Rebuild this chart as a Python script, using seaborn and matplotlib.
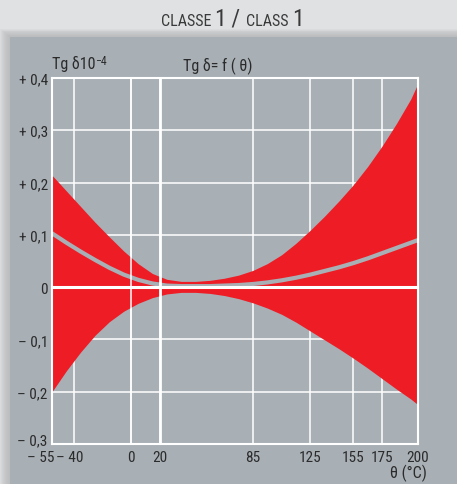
import matplotlib
matplotlib.use("Agg")
import matplotlib.pyplot as plt
from matplotlib.patches import Rectangle
from matplotlib.offsetbox import TextArea, HPacker, AnchoredOffsetbox
from matplotlib.transforms import ScaledTranslation
import seaborn as sns
import pandas as pd

# Temperature (°C) and tan delta (x 10^-4) envelopes
temps = [-55, -45, -35, -25, -15, -5, 5, 15, 25, 35, 45, 55, 65, 75, 85,
         95, 105, 115, 125, 135, 145, 155, 165, 175, 185, 195, 200]
upper = [0.214, 0.184, 0.154, 0.124, 0.096, 0.069, 0.045, 0.026, 0.015, 0.011,
         0.011, 0.013, 0.017, 0.023, 0.032, 0.045, 0.062, 0.084, 0.109, 0.136,
         0.165, 0.196, 0.231, 0.270, 0.313, 0.360, 0.390]
typical = [0.103, 0.085, 0.068, 0.052, 0.037, 0.024, 0.014, 0.007, 0.003, 0.002,
           0.002, 0.002, 0.003, 0.004, 0.006, 0.009, 0.013, 0.018, 0.024, 0.031,
           0.038, 0.046, 0.055, 0.065, 0.075, 0.085, 0.090]
lower = [-0.200, -0.160, -0.124, -0.092, -0.066, -0.046, -0.031, -0.020, -0.013,
         -0.010, -0.010, -0.012, -0.016, -0.022, -0.030, -0.040, -0.052, -0.067,
         -0.084, -0.101, -0.118, -0.136, -0.155, -0.175, -0.195, -0.214, -0.225]

x_ticks = [-55, -40, 0, 20, 85, 125, 155, 175, 200]
x_tick_labels = ["– 55", "– 40", "0", "20", "85", "125", "155", "175", "200"]
y_ticks = [0.4, 0.3, 0.2, 0.1, 0.0, -0.1, -0.2, -0.3]
y_tick_labels = ["+ 0,4", "+ 0,3", "+ 0,2", "+ 0,1", "0", "– 0,1", "– 0,2", "– 0,3"]

df = pd.DataFrame({"theta": temps, "upper": upper, "typical": typical, "lower": lower})

sns.set_theme(style="white")
FONT = ["Roboto Condensed", "Liberation Sans Narrow", "Liberation Sans", "DejaVu Sans"]
plt.rcParams["font.family"] = FONT

PAGE = "#e0e1e3"
PANEL = "#a8afb5"
RED = "#ee1c25"
TXT = "#2b2b2b"

fig = plt.figure(figsize=(4.57, 4.85), dpi=100, facecolor=PAGE)

# Panel with a soft drop shadow on its top and left edges
W, H = 457.0, 485.0
px, py = 10 / W, 38 / H
for i in range(10):
    a = 0.03 * (10 - i) / 10 + 0.008
    fig.patches.append(Rectangle((px - (10 - i) / W, 0), 1, 1 - py + (10 - i) / H * 0.8,
                                 transform=fig.transFigure, facecolor="#505558",
                                 alpha=a, edgecolor="none", zorder=-3))
fig.patches.append(Rectangle((px, 0), 1, 1 - py, transform=fig.transFigure,
                             facecolor=PANEL, edgecolor="none", zorder=-2))

ax = fig.add_axes([52 / W, 1 - 445 / H, 366 / W, 366 / H])
ax.set_facecolor(PANEL)

ax.fill_between(df["theta"], df["lower"], df["upper"], color=RED, lw=0, zorder=2)
sns.lineplot(data=df, x="theta", y="typical", color=PANEL, lw=3.0, ax=ax, zorder=3)

ax.set_xlim(-55, 200)
ax.set_ylim(-0.3, 0.4)
ax.set_xticks(x_ticks)
ax.set_xticklabels(x_tick_labels)
ax.set_yticks(y_ticks)
ax.set_yticklabels(y_tick_labels)
ax.tick_params(length=0, labelsize=11, colors=TXT)
ax.tick_params(axis="y", pad=3)
ax.tick_params(axis="x", pad=4)
ax.set_xlabel("")
ax.set_ylabel("")

# Nudge the crowded labels at the cold end
def nudge(label, dx, dy):
    label.set_transform(label.get_transform()
                        + ScaledTranslation(dx / 100, dy / 100, fig.dpi_scale_trans))

xlabels = ax.get_xticklabels()
nudge(xlabels[0], -11, 0)
nudge(xlabels[1], -4, 0)
nudge(ax.get_yticklabels()[-1], 0, 5)

# Grid sits beneath the red band
for xv in x_ticks:
    ax.axvline(xv, color="white", lw=1.1, zorder=1)
for yv in y_ticks:
    ax.axhline(yv, color="white", lw=1.1, zorder=1)

# Reference lines drawn over the band
ax.axhline(0, color="white", lw=2.2, zorder=4)
ax.axvline(20, color="white", lw=2.0, zorder=4)
ax.axvline(0, color="white", lw=1.1, zorder=4)

for s in ax.spines.values():
    s.set_color("white")
    s.set_linewidth(1.5)
    s.set_zorder(5)

unit = ax.text(0.0, 1.02, "Tg δ10", transform=ax.transAxes, ha="left", va="bottom",
               fontsize=11.5, color=TXT)
ax.annotate("−4", xy=(1, 1), xycoords=unit, xytext=(-0.5, 0.5), textcoords="offset points",
            ha="left", va="top", fontsize=8.5, color=TXT)
ax.text(183 / W, 1 - 71 / H, "Tg δ= f ( θ)", transform=fig.transFigure, ha="left",
        va="baseline", fontsize=11.5, color=TXT)
fig.text(427 / W, 1 - 478 / H, "θ (°C)", ha="right", va="baseline",
         fontsize=11.5, color=TXT)

# Small-caps title
parts = [("CLASSE ", 11.5), ("1", 17), (" / ", 17), ("CLASS ", 11.5), ("1", 17)]
boxes = [TextArea(t, textprops=dict(fontsize=s, color="#3a3a3a", family=FONT))
         for t, s in parts]
pack = HPacker(children=boxes, align="baseline", pad=0, sep=0)
title = AnchoredOffsetbox(loc="center", child=pack, frameon=False,
                          bbox_to_anchor=(232 / W, 1 - 19 / H),
                          bbox_transform=fig.transFigure, borderpad=0)
fig.add_artist(title)

fig.savefig("out.png", dpi=100, facecolor=PAGE)
